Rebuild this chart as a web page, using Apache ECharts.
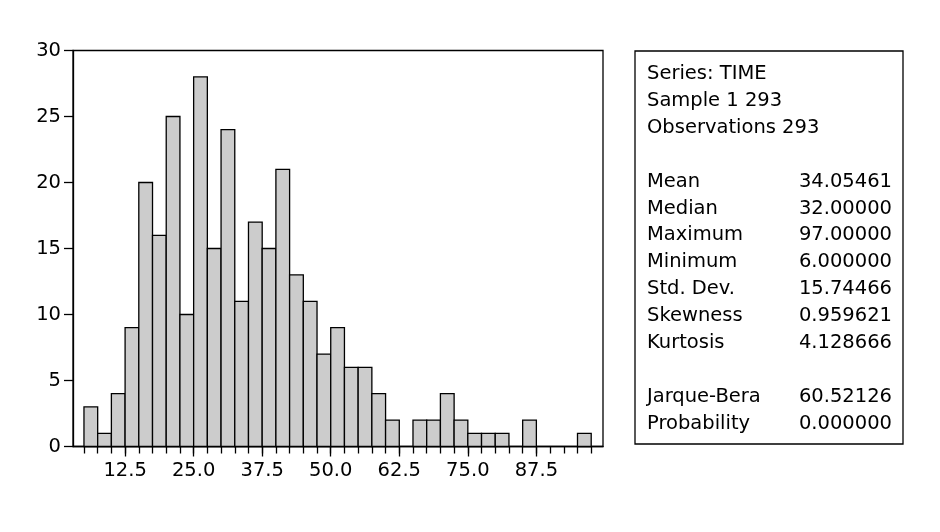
<!DOCTYPE html>
<html>
<head>
<meta charset="utf-8">
<script src="https://cdn.jsdelivr.net/npm/echarts@6/dist/echarts.min.js"></script>
<style>
html,body{margin:0;padding:0;background:#fff;}
#chart{width:940px;height:532px;}
</style>
</head>
<body>
<div id="chart"></div>
<script>
// Histogram data: bin start values (width 2.5) and counts
var binWidth = 2.5;
var binStarts = [5, 7.5, 10, 12.5, 15, 17.5, 20, 22.5, 25, 27.5, 30, 32.5, 35, 37.5, 40, 42.5, 45, 47.5, 50, 52.5, 55, 57.5, 60, 62.5, 65, 67.5, 70, 72.5, 75, 77.5, 80, 82.5, 85, 87.5, 90, 92.5, 95];
var counts    = [3, 1, 4, 9, 20, 16, 25, 10, 28, 15, 24, 11, 17, 15, 21, 13, 11, 7, 9, 6, 6, 4, 2, 0, 2, 2, 4, 2, 1, 1, 1, 0, 2, 0, 0, 0, 1];

var xMajorTicks = [12.5, 25, 37.5, 50, 62.5, 75, 87.5];
var xTickLabels = ['12.5', '25.0', '37.5', '50.0', '62.5', '75.0', '87.5'];
var xMinorTicks = [5, 7.5, 10, 12.5, 15, 17.5, 20, 22.5, 25, 27.5, 30, 32.5, 35, 37.5, 40, 42.5, 45, 47.5, 50, 52.5, 55, 57.5, 60, 62.5, 65, 67.5, 70, 72.5, 75, 77.5, 80, 82.5, 85, 87.5, 90, 92.5, 95, 97.5];

var headerLines = ['Series: TIME', 'Sample 1 293', 'Observations 293'];
var statNames  = ['Mean', 'Median', 'Maximum', 'Minimum', 'Std. Dev.', 'Skewness', 'Kurtosis', '', 'Jarque-Bera', 'Probability'];
var statValues = ['34.05461', '32.00000', '97.00000', '6.000000', '15.74466', '0.959621', '4.128666', '', '60.52126', '0.000000'];

var FONT = 'DejaVu Sans';
var FS = 19.5;

var data = binStarts.map(function (s, i) { return [s, counts[i]]; });

var graphics = [{
  type: 'rect',
  shape: { x: 635, y: 51, width: 268, height: 393 },
  style: { fill: '#fff', stroke: '#000', lineWidth: 1.3 },
  z: 10
}];
var lineH = 26.9, y0 = 74;
headerLines.forEach(function (t, i) {
  graphics.push({ type: 'text', x: 647, y: y0 + i * lineH, z: 11,
    style: { text: t, font: FS + 'px "' + FONT + '"', fill: '#000', textAlign: 'left', textVerticalAlign: 'middle' } });
});
statNames.forEach(function (t, i) {
  if (!t) return;
  var yy = y0 + (i + 4) * lineH;
  graphics.push({ type: 'text', x: 647, y: yy, z: 11,
    style: { text: t, font: FS + 'px "' + FONT + '"', fill: '#000', textAlign: 'left', textVerticalAlign: 'middle' } });
  graphics.push({ type: 'text', x: 892, y: yy, z: 11,
    style: { text: statValues[i], font: FS + 'px "' + FONT + '"', fill: '#000', textAlign: 'right', textVerticalAlign: 'middle' } });
});

var chart = echarts.init(document.getElementById('chart'), null, { renderer: 'canvas' });
chart.setOption({
  animation: false,
  backgroundColor: '#fff',
  textStyle: { fontFamily: FONT },
  grid: { left: 73, top: 50.5, right: 337, bottom: 85.5, show: true, borderColor: '#000', borderWidth: 1.3, backgroundColor: 'transparent' },
  xAxis: [{
    type: 'value', min: 3, max: 99.65, position: 'bottom',
    splitLine: { show: false },
    axisLine: { show: true, onZero: false, lineStyle: { color: '#000', width: 1.3 } },
    axisTick: { show: true, length: 10, customValues: xMajorTicks, lineStyle: { color: '#000', width: 1.3 } },
    axisLabel: { show: true, customValues: xMajorTicks, margin: 14, color: '#000', fontSize: FS, fontFamily: FONT,
      formatter: function (v) { var i = xMajorTicks.indexOf(v); return i >= 0 ? xTickLabels[i] : ''; } }
  }, {
    type: 'value', min: 3, max: 99.65, position: 'bottom', gridIndex: 0,
    splitLine: { show: false },
    axisLine: { show: false, onZero: false },
    axisTick: { show: true, length: 7, customValues: xMinorTicks, lineStyle: { color: '#000', width: 1.3 } },
    axisLabel: { show: false }
  }],
  yAxis: {
    type: 'value', min: 0, max: 30, interval: 5,
    splitLine: { show: false },
    axisLine: { show: true, lineStyle: { color: '#000', width: 1.3 } },
    axisTick: { show: true, length: 9, lineStyle: { color: '#000', width: 1.3 } },
    axisLabel: { margin: 12, color: '#000', fontSize: FS, fontFamily: FONT }
  },
  series: [{
    type: 'custom',
    xAxisIndex: 0,
    data: data,
    encode: { x: 0, y: 1 },
    renderItem: function (params, api) {
      var s = api.value(0), c = api.value(1);
      if (!c) return null;
      var p0 = api.coord([s, 0]);
      var p1 = api.coord([s + binWidth, c]);
      return {
        type: 'rect',
        shape: { x: p0[0], y: p1[1], width: p1[0] - p0[0], height: p0[1] - p1[1] },
        style: { fill: '#cccccc', stroke: '#000', lineWidth: 1.3 }
      };
    }
  }],
  graphic: graphics
});
</script>
</body>
</html>
